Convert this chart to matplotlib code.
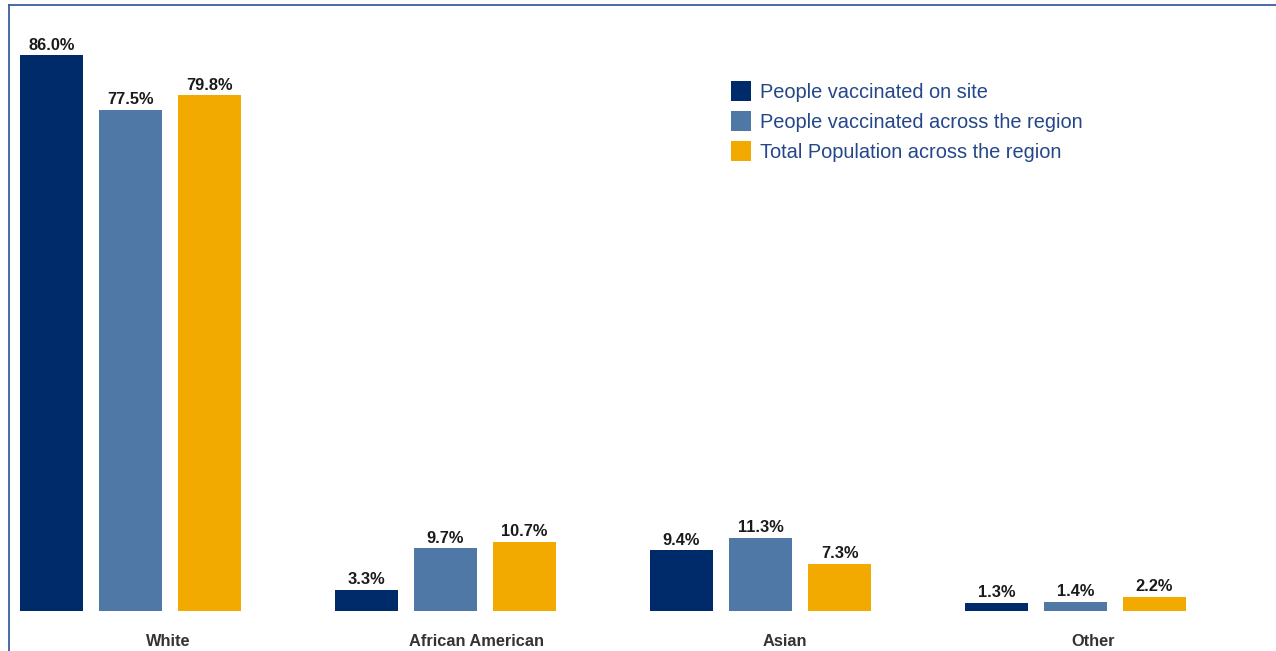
import matplotlib
matplotlib.use("Agg")
import matplotlib.pyplot as plt
from matplotlib.patches import Rectangle
from matplotlib.lines import Line2D
import numpy as np

plt.rcParams['font.family'] = ['Liberation Sans', 'DejaVu Sans']

categories = ["White", "African American", "Asian", "Other"]
series_names = ["People vaccinated on site",
                "People vaccinated across the region",
                "Total Population across the region"]
on_site = [86.0, 3.3, 9.4, 1.3]
region_vacc = [77.5, 9.7, 11.3, 1.4]
total_pop = [79.8, 10.7, 7.3, 2.2]
colors = ["#002B6B", "#4F78A6", "#F2A900"]

W, H = 1276, 651
fig = plt.figure(figsize=(W / 100, H / 100), dpi=100)

L_px, R_px = 15, 1260
base_px, top_px = 611, 6
ax = fig.add_axes([L_px / W, (H - base_px) / H, (R_px - L_px) / W, (base_px - top_px) / H])

pitch = 79 / 315
width = 63 / 315
x = np.arange(len(categories))
ax.set_xlim(-(130.5 - L_px) / 315, (R_px - 130.5) / 315)
ax.set_ylim(0, (base_px - top_px) / 6.465)

for i, (vals, c) in enumerate(zip([on_site, region_vacc, total_pop], colors)):
    xs = x + (i - 1) * pitch
    ax.bar(xs, vals, width=width, color=c, edgecolor='none')
    for xv, v in zip(xs, vals):
        ax.annotate(f"{v:.1f}%", (xv, v), xytext=(0, 1.8), textcoords='offset points',
                    ha='center', va='bottom', fontsize=11.8, fontweight='bold', color='#1a1a1a')

# category labels sit slightly right of each group's centre, as in the reference
ax.set_xticks(x * 0.979 + 0.119)
ax.set_xticklabels(categories, fontsize=11.8, fontweight='bold', color='#333333')
ax.tick_params(axis='x', length=0, pad=16.5)
ax.set_yticks([])
for s in ax.spines.values():
    s.set_visible(False)

# legend (manual)
for k, (name, c) in enumerate(zip(series_names, colors)):
    yc = [91, 121, 151][k]
    fig.patches.append(Rectangle((731 / W, (H - yc - 10) / H), 20 / W, 20 / H,
                                 transform=fig.transFigure, facecolor=c, edgecolor='none'))
    fig.text(760 / W, (H - yc - 2) / H, name, fontsize=14.4, color='#24478A',
             ha='left', va='center')

# frame lines
fig.add_artist(Line2D([9 / W, 1], [(H - 5) / H, (H - 5) / H], transform=fig.transFigure,
                      color='#3A5E9E', lw=1.3))
fig.add_artist(Line2D([9 / W, 9 / W], [0, (H - 5) / H], transform=fig.transFigure,
                      color='#3A5E9E', lw=1.3))

fig.savefig("out.png", dpi=100)
